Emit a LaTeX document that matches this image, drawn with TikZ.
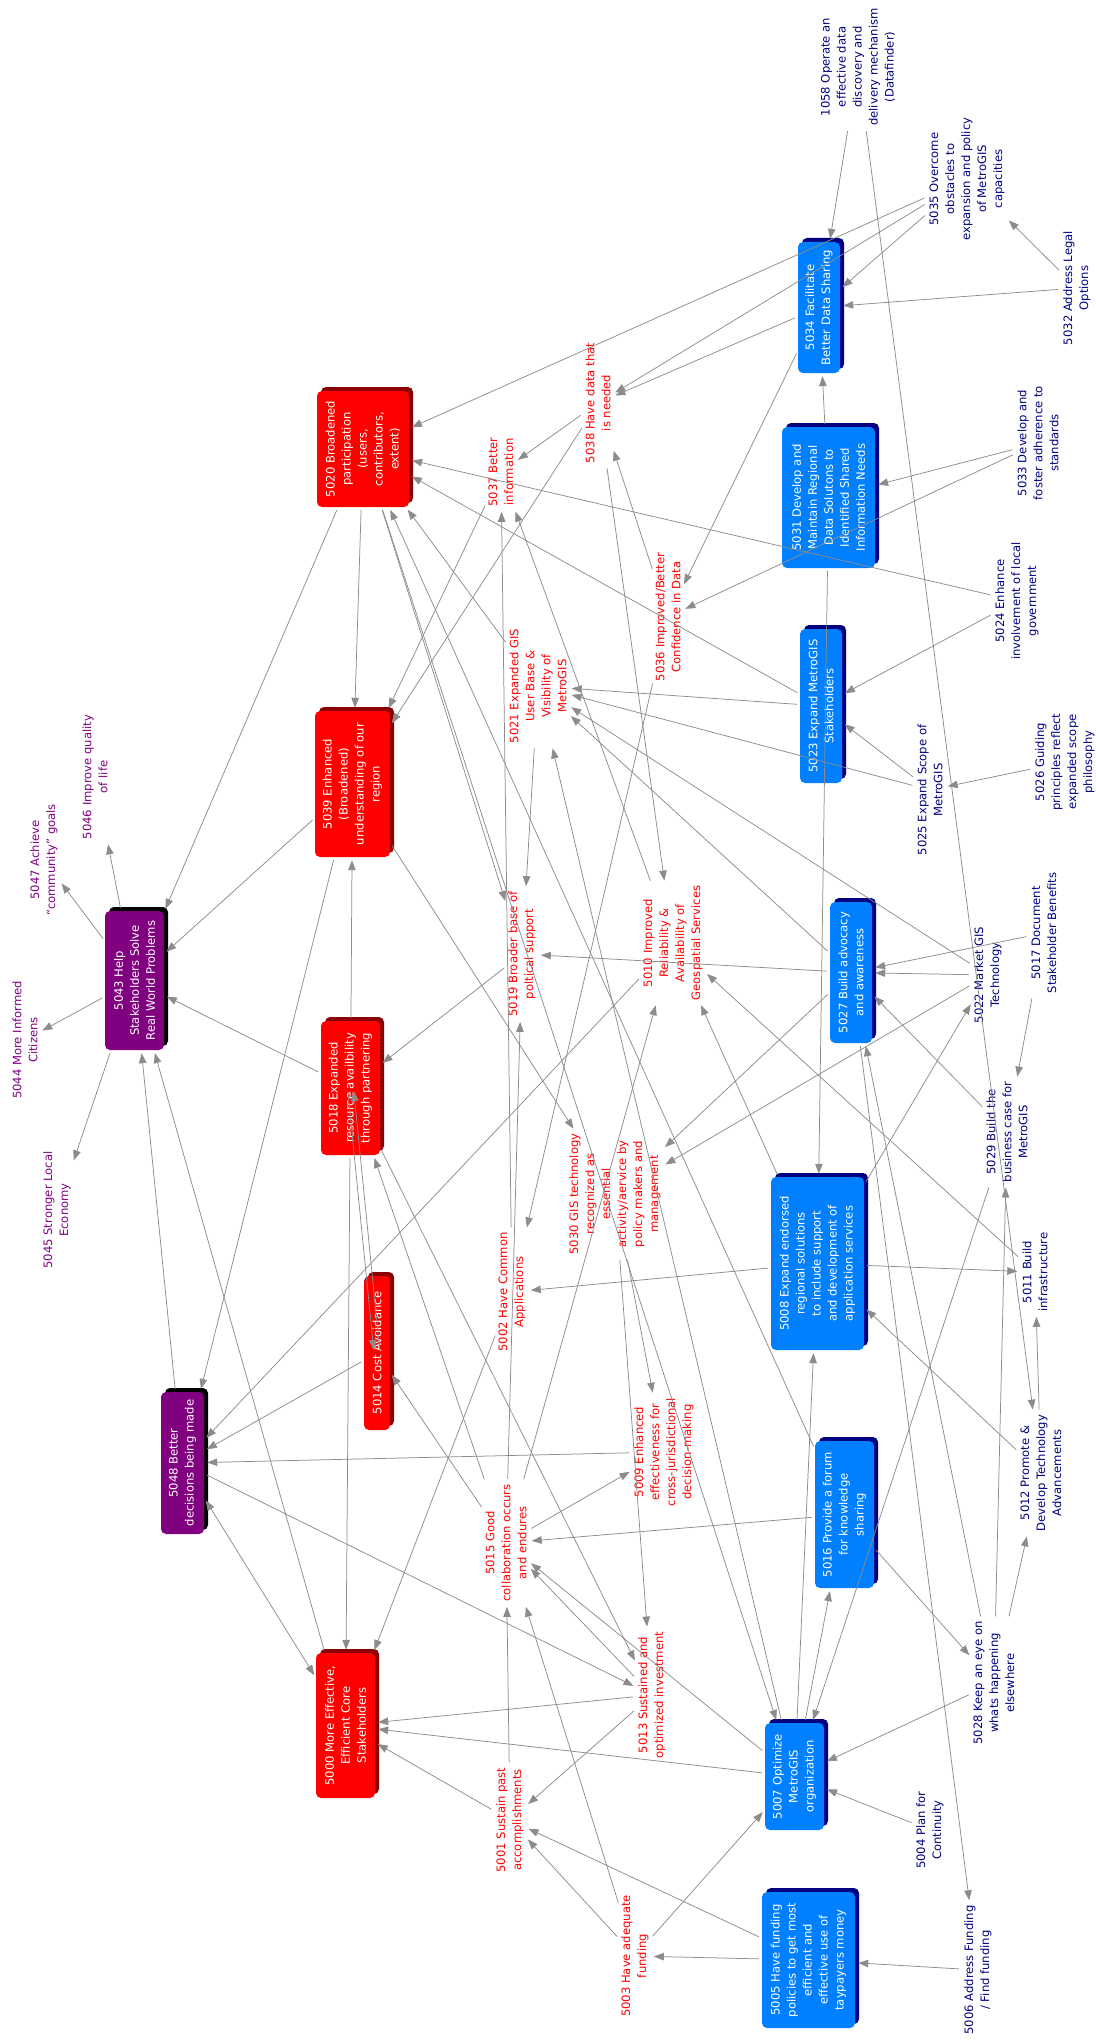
\documentclass[tikz,border=0pt]{standalone}
\usepackage{fontspec}
\usetikzlibrary{arrows.meta}
\newfontfamily\dvs{DejaVu Sans}
\definecolor{rbox}{HTML}{FF0000}
\definecolor{rshadow}{HTML}{8B0000}
\definecolor{pbox}{HTML}{800080}
\definecolor{pshadow}{HTML}{000000}
\definecolor{bbox}{HTML}{0080FF}
\definecolor{bshadow}{HTML}{000080}
\definecolor{tnavy}{HTML}{000080}
\definecolor{tpurple}{HTML}{800080}
\definecolor{tred}{HTML}{FF0000}
\definecolor{egray}{HTML}{8C8C8C}
\tikzset{
  lblfont/.style={font=\dvs\fontsize{11.6}{16}\selectfont},
  box/.style={lblfont, rotate=90, rounded corners=5pt, text=white, align=center, inner sep=2pt},
  redbox/.style={box, fill=rbox},
  purbox/.style={box, fill=pbox},
  blubox/.style={box, fill=bbox},
  lbl/.style={lblfont, rotate=90, align=center, inner sep=2pt},
  redtxt/.style={lbl, text=tred},
  navtxt/.style={lbl, text=tnavy},
  purtxt/.style={lbl, text=tpurple},
  edge/.style={draw=egray, line width=0.75pt, -{Triangle[length=10pt,width=7.5pt]}, shorten >=3pt, shorten <=3pt},
  bedge/.style={draw=egray, line width=0.75pt, {Triangle[length=10pt,width=7.5pt]}-{Triangle[length=10pt,width=7.5pt]}, shorten >=3pt, shorten <=3pt},
}
% #1 name, #2 x, #3 y, #4 page width, #5 page height, #6 style, #7 shadow colour, #8 text
\newcommand{\putbox}[8]{%
  \fill[#7, rounded corners=5pt] ({#2-#4/2+4},{#3-#5/2-4}) rectangle ({#2+#4/2+4},{#3+#5/2-4});
  \node[#6, minimum width=#5pt, minimum height=#4pt] (#1) at (#2,#3) {#8};
}
\begin{document}
\begin{tikzpicture}[x=1pt,y=-1pt]
\useasboundingbox (0,0) rectangle (1095,2041);
% boxes
\putbox{n5020}{363}{449}{92}{116}{redbox}{rshadow}{5020 Broadened\\participation\\(users,\\contributors,\\extent)}
\putbox{n5039}{352.5}{784}{75}{146}{redbox}{rshadow}{5039 Enhanced\\(Broadened)\\understanding of our\\region}
\putbox{n5043}{134.5}{980.5}{59}{139}{purbox}{pshadow}{5043 Help\\Stakeholders Solve\\Real World Problems}
\putbox{n5018}{350.5}{1088}{59}{134}{redbox}{rshadow}{5018 Expanded\\resource availbility\\through partnering}
\putbox{n5014}{377}{1353}{26}{154}{redbox}{rshadow}{5014 Cost Avoidance}
\putbox{n5048}{182.5}{1463}{43}{142}{purbox}{pshadow}{5048 Better\\decisions being made}
\putbox{n5000}{345.5}{1725.5}{59}{145}{redbox}{rshadow}{5000 More Effective,\\Efficient Core\\Stakeholders}
\putbox{n5034}{819}{307.5}{42}{131}{blubox}{bshadow}{5034 Facilitate\\Better Data Sharing}
\putbox{n5031}{828.5}{497.5}{93}{141}{blubox}{bshadow}{5031 Develop and\\Maintain Regional\\Data Solutons to\\Identified Shared\\Information Needs}
\putbox{n5023}{821}{706}{42}{154}{blubox}{bshadow}{5023 Expand MetroGIS\\Stakeholders}
\putbox{n5027}{851}{972.5}{42}{141}{blubox}{bshadow}{5027 Build advocacy\\and awareness}
\putbox{n5008}{817.5}{1263.5}{93}{173}{blubox}{bshadow}{5008 Expand endorsed\\regional solutions\\to include support\\and development of\\application services}
\putbox{n5016}{844.5}{1514.5}{59}{147}{blubox}{bshadow}{5016 Provide a forum\\for knowledge\\sharing}
\putbox{n5007}{794.5}{1776.5}{59}{107}{blubox}{bshadow}{5007 Optimize\\MetroGIS\\organization}
\putbox{n5005}{808.5}{1960}{93}{136}{blubox}{bshadow}{5005 Have funding\\policies to get most\\efficient and\\effective use of\\taypayers money}
% red texts
\node[redtxt] (n5037) at (501,472) {5037 Better\\information};
\node[redtxt] (n5038) at (598,403) {5038 Have data that\\is needed};
\node[redtxt] (n5036) at (668,617) {5036 Improved/Better\\Confidence in Data};
\node[redtxt] (n5021) at (538,686) {5021 Expanded GIS\\User Base \&\\Visibility of\\MetroGIS};
\node[redtxt] (n5019) at (522,954) {5019 Broader base of\\poltical support};
\node[redtxt] (n5010) at (673,943) {5010 Improved\\Reliability \&\\Availability of\\Geospatial Services};
\node[redtxt] (n5030) at (615,1194) {5030 GIS technology\\recognized as\\essential\\activity/aervice by\\policy makers and\\management};
\node[redtxt] (n5002) at (512,1292) {5002 Have Common\\Applications};
\node[redtxt] (n5009) at (664,1452) {5009 Enhanced\\effectiveness for\\cross-jurisdictional\\decision-making};
\node[redtxt] (n5015) at (506,1543) {5015 Good\\collaboration occurs\\and endures};
\node[redtxt] (n5013) at (652,1695) {5013 Sustained and\\optimized investment};
\node[redtxt] (n5001) at (510,1820) {5001 Sustain past\\accomplishments};
\node[redtxt] (n5003) at (635,1956) {5003 Have adequate\\funding};
% purple texts
\node[purtxt] (n5047) at (44,860) {5047 Achieve\\“community” goals};
\node[purtxt] (n5046) at (95,777) {5046 Improve quality\\of life};
\node[purtxt] (n5044) at (25,1040) {5044 More Informed\\Citizens};
\node[purtxt] (n5045) at (57,1210) {5045 Stronger Local\\Economy};
% navy texts
\node[navtxt] (n1058) at (858,67) {1058 Operate an\\effective data\\discovery and\\delivery mechanism\\(Datafinder)};
\node[navtxt] (n5035) at (967,179) {5035 Overcome\\obstacles to\\expansion and policy\\of MetroGIS\\capacities};
\node[navtxt] (n5032) at (1077,288) {5032 Address Legal\\Options};
\node[navtxt] (n5033) at (1038,443) {5033 Develop and\\foster adherence to\\standards};
\node[navtxt] (n5024) at (1017,601) {5024 Enhance\\involvement of local\\government};
\node[navtxt] (n5025) at (930,790) {5025 Expand Scope of\\MetroGIS};
\node[navtxt] (n5026) at (1065,762) {5026 Guiding\\principles reflect\\expanded scope\\philosophy};
\node[navtxt] (n5017) at (1044,933) {5017 Document\\Stakeholder Benefits};
\node[navtxt] (n5022) at (988,975) {5022 Market GIS\\Technology};
\node[navtxt] (n5029) at (1007,1132) {5029 Build the\\business case for\\MetroGIS};
\node[navtxt] (n5011) at (1035,1272) {5011 Build\\infrastructure};
\node[navtxt] (n5012) at (1041,1473) {5012 Promote \&\\Develop Technology\\Advancements};
\node[navtxt] (n5028) at (994,1683) {5028 Keep an eye on\\whats happening\\elsewhere};
\node[navtxt] (n5004) at (930,1830) {5004 Plan for\\Continuity};
\node[navtxt] (n5006) at (978,1970) {5006 Address Funding\\/ Find funding};
% connectors
\draw[edge] (n1058) -- (n5034);
\draw[edge] (n1058) -- (n5012);
\draw[edge] (n5035) -- (n5020);
\draw[edge] (n5035) -- (n5038);
\draw[edge] (n5035) -- (n5034);
\draw[edge] (n5032) -- (n5035);
\draw[edge] (n5032) -- (n5034);
\draw[edge] (n5034) -- (n5038);
\draw[edge] (n5034) -- (n5036);
\draw[edge] (n5031) -- (n5034);
\draw[edge] (n5033) -- (n5031);
\draw[edge] (n5033) -- (n5036);
\draw[edge] (n5031) -- (n5008);
\draw[edge] (n5024) -- (n5020);
\draw[edge] (n5024) -- (n5023);
\draw[edge] (n5025) -- (n5023);
\draw[edge] (n5025) -- (n5021);
\draw[edge] (n5026) -- (n5025);
\draw[edge] (n5023) -- (n5020);
\draw[edge] (n5023) -- (n5021);
\draw[edge] (n5036) -- (n5038);
\draw[edge] (n5036) -- (n5002);
\draw[edge] (n5038) -- (n5037);
\draw[edge] (n5038) -- (n5039);
\draw[edge] (n5038) -- (n5010);
\draw[edge] (n5010) -- (n5037);
\draw[edge] (n5037) -- (n5039);
\draw[edge] (n5002) -- (n5037);
\draw[edge] (n5021) -- (n5020);
\draw[edge] (n5020) -- (n5039);
\draw[edge] (n5020) -- (n5043);
\draw[edge] (n5020) -- (n5019);
\draw[edge] (n5020) -- (n5007);
\draw[edge] (n5016) -- (n5020);
\draw[edge] (n5027) -- (n5021);
\draw[edge] (n5022) -- (n5021);
\draw[edge] (n5007) -- (n5021);
\draw[edge] (n5021) -- (n5019);
\draw[edge] (n5039) -- (n5043);
\draw[edge] (n5039) -- (n5048);
\draw[edge] (n5039) -- (n5030);
\draw[edge] (n5018) -- (n5039);
\draw[edge] (n5018) -- (n5043);
\draw[edge] (n5018) -- (n5000);
\draw[edge] ([xshift=-3pt]n5018.center) -- ([xshift=-3pt]n5014.center);
\draw[edge] ([xshift=3pt]n5014.center) -- ([xshift=3pt]n5018.center);
\draw[edge] (n5019) -- (n5018);
\draw[edge] (n5043) -- (n5044);
\draw[edge] (n5043) -- (n5045);
\draw[edge] (n5043) -- (n5046);
\draw[edge] (n5043) -- (n5047);
\draw[edge] (n5048) -- (n5043);
\draw[edge] (n5000) -- (n5043);
\draw[bedge] (n5048) -- (n5000);
\draw[edge] (n5014) -- (n5048);
\draw[edge] (n5010) -- (n5048);
\draw[edge] (n5009) -- (n5048);
\draw[edge] (n5015) -- (n5018);
\draw[edge] (n5015) -- (n5014);
\draw[edge] (n5015) -- (n5019);
\draw[edge] (n5015) -- (n5010);
\draw[edge] (n5015) -- (n5009);
\draw[edge] (n5048) -- (n5013);
\draw[edge] (n5018) -- (n5013);
\draw[edge] (n5030) -- (n5013);
\draw[edge] (n5030) -- (n5009);
\draw[edge] (n5013) -- (n5000);
\draw[edge] (n5007) -- (n5000);
\draw[edge] (n5001) -- (n5000);
\draw[edge] (n5002) -- (n5000);
\draw[edge] (n5013) -- (n5001);
\draw[edge] (n5013) -- (n5015);
\draw[edge] (n5007) -- (n5015);
\draw[edge] (n5001) -- (n5015);
\draw[edge] (n5003) -- (n5015);
\draw[edge] (n5016) -- (n5015);
\draw[edge] (n5003) -- (n5001);
\draw[edge] (n5005) -- (n5001);
\draw[edge] (n5005) -- (n5003);
\draw[edge] (n5003) -- (n5007);
\draw[edge] (n5006) -- (n5005);
\draw[edge] (n5004) -- (n5007);
\draw[edge] (n5028) -- (n5007);
\draw[edge] (n5029) -- (n5007);
\draw[edge] (n5028) -- (n5029);
\draw[edge] (n5028) -- (n5027);
\draw[edge] (n5028) -- (n5012);
\draw[edge] (n5016) -- (n5028);
\draw[edge] (n5027) -- (n5006);
\draw[edge] (n5012) -- (n5011);
\draw[edge] (n5012) -- (n5008);
\draw[edge] (n5007) -- (n5008);
\draw[edge] (n5007) -- (n5016);
\draw[edge] (n5008) -- (n5002);
\draw[edge] (n5008) -- (n5011);
\draw[edge] (n5008) -- (n5010);
\draw[edge] (n5011) -- (n5010);
\draw[edge] (n5008) -- (n5022);
\draw[edge] (n5027) -- (n5019);
\draw[edge] (n5017) -- (n5027);
\draw[edge] (n5022) -- (n5027);
\draw[edge] (n5029) -- (n5027);
\draw[edge] (n5017) -- (n5029);
\draw[edge] (n5027) -- (n5030);
\draw[edge] (n5022) -- (n5030);
\end{tikzpicture}
\end{document}
